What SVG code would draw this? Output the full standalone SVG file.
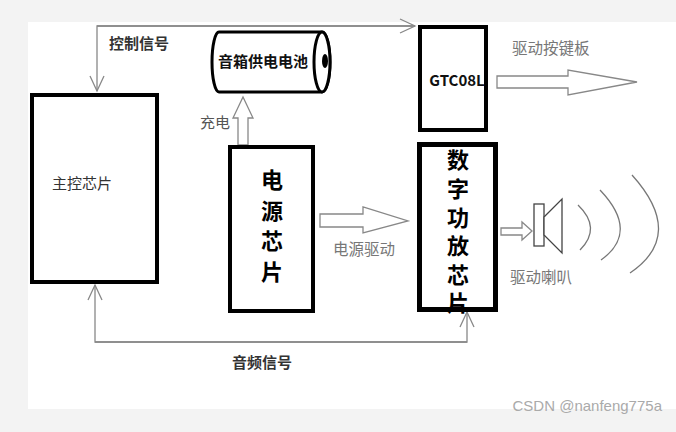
<svg xmlns="http://www.w3.org/2000/svg" width="676" height="432" viewBox="0 0 676 432">
<defs>
<style>
.box{fill:#fff;stroke:#000;}
.line{fill:none;stroke:#888;stroke-width:1.3;}
.hollow{fill:#fff;stroke:#888;stroke-width:1.3;}
.t{font-family:"Noto Sans CJK SC","Liberation Sans",sans-serif;}
.big{font-size:22px;font-weight:bold;fill:#000;writing-mode:vertical-rl;}
.lbl{font-size:15.5px;fill:#777;}
.blbl{font-size:15px;font-weight:bold;fill:#333;}
.wave{fill:none;stroke:#777;stroke-width:1.3;}
</style>
<marker id="open" markerWidth="18" markerHeight="18" refX="16" refY="8" orient="auto" markerUnits="userSpaceOnUse">
<path d="M1,1 L16,8 L1,15" fill="none" stroke="#888" stroke-width="1.3"/>
</marker>
</defs>
<rect x="0" y="0" width="676" height="432" fill="#f3f3f3"/>
<rect x="28" y="22" width="648" height="387" fill="#fff"/>

<g id="connectors">
<polyline class="line" points="415,26 97,26 97,91" marker-end="url(#open)"/>
<polyline class="line" points="97,26 415,26" marker-end="url(#open)"/>
<polyline class="line" points="467,342 95,342 95,285" marker-end="url(#open)"/>
<polyline class="line" points="95,342 467,342 467,312" marker-end="url(#open)"/>
<polygon class="hollow" points="238,145 238,118 233,118 243,97 253,118 248,118 248,145"/>
<polygon class="hollow" points="320,214 363,214 363,207 408,221 363,233 363,227 320,227"/>
<polygon class="hollow" points="497,76 568,76 568,70 637,82 568,95 568,88 497,88"/>
<polygon class="hollow" points="501,228 522,228 522,222 532,231 522,240 522,235 501,235"/>
</g>

<g id="main">
<rect class="box" x="32" y="95" width="125" height="187" stroke-width="4"/>
<text class="t" x="52" y="189" font-size="15" fill="#333">主控芯片</text>
</g>

<g id="battery">
<path d="M219,32 L322,32 A8,30 0 0 1 322,92 L219,92 A7,30 0 0 1 219,32 Z" fill="#fff" stroke="#000" stroke-width="3"/>
<ellipse cx="322" cy="62" rx="8" ry="30" fill="#fff" stroke="#000" stroke-width="3"/>
<ellipse cx="325" cy="61" rx="3" ry="7" fill="#000"/>
<text class="t" x="263" y="67" font-size="15" font-weight="bold" fill="#111" text-anchor="middle">音箱供电电池</text>
</g>

<g id="power">
<rect class="box" x="230" y="147" width="83" height="164" stroke-width="4"/>
<text class="t big" x="272" y="169" letter-spacing="8.5">电源芯片</text>
</g>

<g id="gtc">
<rect class="box" x="420" y="27" width="66" height="103" stroke-width="4"/>
<text class="t" x="457" y="86" font-size="15" font-weight="bold" fill="#111" text-anchor="middle">GTC08L</text>
</g>

<g id="amp">
<rect class="box" x="419.5" y="144.5" width="76" height="165" stroke-width="5"/>
<text class="t big" x="458" y="149" letter-spacing="6.6">数字功放芯片</text>
</g>

<g id="speaker">
<rect x="534" y="204" width="10" height="42" fill="#fff" stroke="#444" stroke-width="1.3"/>
<polygon points="544,217 562,199 562,253 544,235" fill="#fff" stroke="#444" stroke-width="1.3"/>
<path class="wave" d="M578,205 Q602,228 580,250"/>
<path class="wave" d="M600,190 Q640,232 601,260"/>
<path class="wave" d="M632,175 Q686,235 630,273"/>
</g>

<g id="labels">
<text class="t blbl" x="109" y="49">控制信号</text>
<text class="t" x="200" y="128" font-size="15" fill="#555">充电</text>
<text class="t lbl" x="512" y="54">驱动按键板</text>
<text class="t lbl" x="333" y="255">电源驱动</text>
<text class="t lbl" x="510" y="283">驱动喇叭</text>
<text class="t blbl" x="232" y="368">音频信号</text>
<text x="662" y="411" font-family="'Liberation Sans',sans-serif" font-size="15" fill="#aaa" text-anchor="end">CSDN @nanfeng775a</text>
</g>
</svg>
